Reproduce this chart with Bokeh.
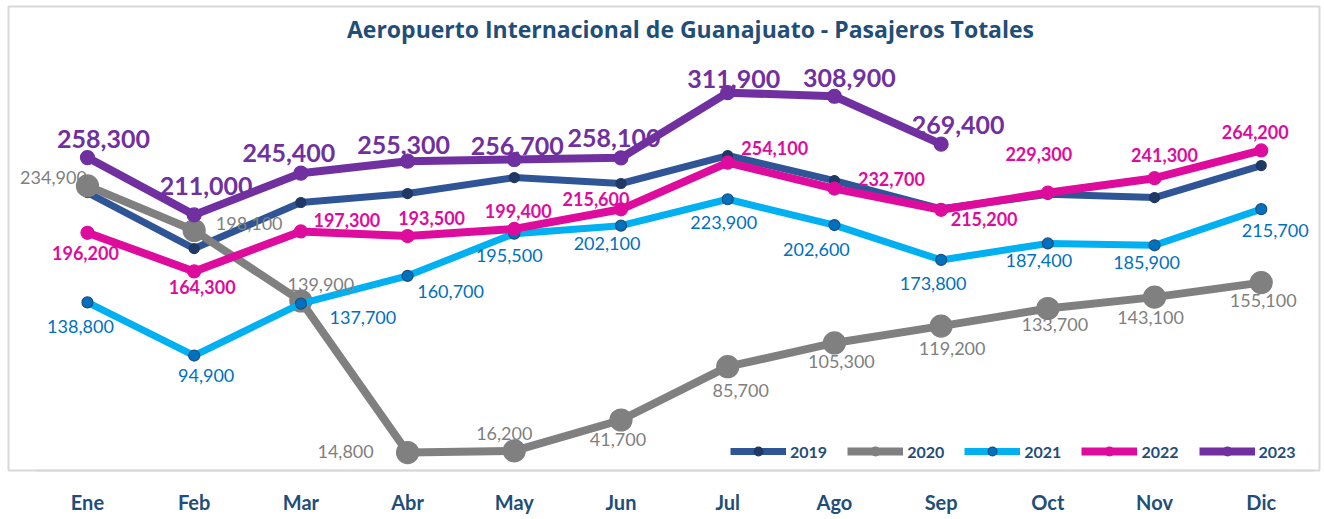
from bokeh.plotting import figure
from bokeh.models import ColumnDataSource, Range1d, Legend, LegendItem, Label, FixedTicker
from bokeh.core.properties import value
from bokeh.embed import file_html
from bokeh.resources import INLINE

# ---------------- data ----------------
months = ["Ene", "Feb", "Mar", "Abr", "May", "Jun", "Jul", "Ago", "Sep", "Oct", "Nov", "Dic"]
y2019 = [229400, 183200, 221200, 228600, 241800, 236900, 260000, 239300, 216000, 228000, 225300, 251700]
y2020 = [234900, 198100, 139900, 14800, 16200, 41700, 85700, 105300, 119200, 133700, 143100, 155100]
y2021 = [138800, 94900, 137700, 160700, 195500, 202100, 223900, 202600, 173800, 187400, 185900, 215700]
y2022 = [196200, 164300, 197300, 193500, 199400, 215600, 254100, 232700, 215200, 229300, 241300, 264200]
y2023 = [258300, 211000, 245400, 255300, 256700, 258100, 311900, 308900, 269400]
years = ["2019", "2020", "2021", "2022", "2023"]
title_text = "Aeropuerto Internacional de Guanajuato - Pasajeros Totales"

# ---------------- label placement (screen px offsets) ----------------
off2020 = [(-34, -8), (55, -7), (20, -17), (-62, -1), (-10, -17), (-3, 20),
           (13, 24), (7, 19), (11, 22), (7, 16), (-4, 20), (2, 18)]
off2021 = [(-7, 24), (12, 20), (62, 14), (43, 16), (-5, 22), (-14, 18),
           (-4, 23), (-18, 24), (-8, 24), (-9, 17), (-8, 17), (14, 21)]
off2022 = [(-2, 20), (8, 16), (46, -11), (24, -18), (4, -18), (-25, -10),
           (47, -15), (57, -10), (43, 9), (-9, -39), (10, -23), (-6, -18)]
off2023 = [(16, -19), (12, -29), (-12, -20), (-4, -16), (3, -14), (-7, -20),
           (6, -14), (15, -18), (17, -19)]

FONT = "Lato"
TXT = "#1F4E79"
idx = list(range(len(months)))

p = figure(width=1324, height=519, title=None,
           x_range=Range1d(-0.74, 11.546), y_range=Range1d(0, 383000),
           output_backend="svg", toolbar_location=None, y_axis_location=None,
           min_border_left=8, min_border_right=5, min_border_top=6, min_border_bottom=49)
p.outline_line_color = "#D9D9D9"
p.outline_line_width = 2
p.background_fill_color = "white"
p.border_fill_color = "white"
p.xgrid.visible = False
p.ygrid.visible = False

xa = p.xaxis[0]
xa.ticker = FixedTicker(ticks=idx)
xa.major_label_overrides = {i: m for i, m in zip(idx, months)}
xa.bounds = (-0.49, 11.5)
xa.axis_line_color = "#D9D9D9"
xa.axis_line_width = 2
xa.major_tick_line_color = None
xa.minor_tick_line_color = None
xa.major_label_text_font = FONT
xa.major_label_text_font_style = "bold"
xa.major_label_text_font_size = "20px"
xa.major_label_text_color = TXT
xa.major_label_standoff = 13

styles = {
    "2019": dict(line="#2F5597", lw=7, mfill="#1F3864", mline="#1F3864", ms=10),
    "2020": dict(line="#808080", lw=8, mfill="#808080", mline="#808080", ms=22),
    "2021": dict(line="#00B0F0", lw=7, mfill="#0070C0", mline="#1F4E79", ms=11),
    "2022": dict(line="#DE0C9C", lw=8, mfill="#DE0C9C", mline="#DE0C9C", ms=13),
    "2023": dict(line="#7030A0", lw=8, mfill="#7030A0", mline="#7030A0", ms=14),
}
series = {"2019": y2019, "2020": y2020, "2021": y2021, "2022": y2022, "2023": y2023}

items = []
for yr in years:
    vals = series[yr]
    st = styles[yr]
    src = ColumnDataSource(dict(x=idx[:len(vals)], y=vals))
    ln = p.line("x", "y", source=src, line_color=st["line"], line_width=st["lw"], line_join="round")
    sc = p.scatter("x", "y", source=src, size=st["ms"], fill_color=st["mfill"],
                   line_color=st["mline"], line_width=1.2)
    items.append(LegendItem(label=yr, renderers=[ln, sc]))

label_specs = [
    ("2020", y2020, off2020, "#7F7F7F", "18px", "normal"),
    ("2021", y2021, off2021, "#0070C0", "18px", "normal"),
    ("2022", y2022, off2022, "#DE0C9C", "18px", "bold"),
    ("2023", y2023, off2023, "#7030A0", "25px", "bold"),
]
for yr, vals, offs, col, fs, fst in label_specs:
    src = ColumnDataSource(dict(
        x=idx[:len(vals)], y=vals,
        t=[f"{v:,}" for v in vals],
        dx=[o[0] for o in offs], dy=[o[1] for o in offs]))
    p.text("x", "y", text="t", source=src, x_offset="dx", y_offset="dy",
           text_align="center", text_baseline="middle", text_color=col,
           text_font=value(FONT), text_font_size=fs, text_font_style=fst)

title = Label(x=682, y=442, x_units="screen", y_units="screen", text=title_text,
              text_align="center", text_baseline="middle", text_font="Open Sans",
              text_font_size="23px", text_font_style="bold", text_color=TXT)
p.add_layout(title)

legend = Legend(items=items, location=(722, 8), orientation="horizontal")
legend.background_fill_alpha = 0
legend.border_line_color = None
legend.label_text_font = FONT
legend.label_text_font_style = "bold"
legend.label_text_font_size = "16px"
legend.label_text_color = TXT
legend.glyph_width = 56
legend.glyph_height = 22
legend.label_standoff = 4
legend.spacing = 20
legend.padding = 0
legend.margin = 0
p.add_layout(legend)

open("out.html", "w").write(file_html(p, INLINE))
